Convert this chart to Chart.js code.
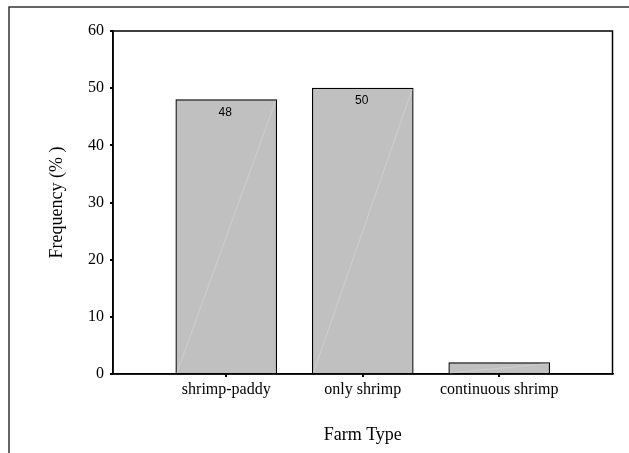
<!DOCTYPE html>
<html>
<head>
<meta charset="utf-8">
<script src="https://cdn.jsdelivr.net/npm/chart.js@4/dist/chart.umd.min.js"></script>
<style>
  html, body { margin: 0; padding: 0; background: #fff; }
  #wrap { width: 629px; height: 453px; }
</style>
</head>
<body>
<div id="wrap"><canvas id="farmChart" width="629" height="453"></canvas></div>
<script>
// farm types and their share (%)
const farmTypes = ['shrimp-paddy', 'only shrimp', 'continuous shrimp'];
const frequency = [48, 50, 2];
const yTicks = [0, 10, 20, 30, 40, 50, 60];

const serif = 'Liberation Serif, Times New Roman, serif';

// outer frame + plot frame
const framePlugin = {
    id: 'frames',
    beforeDraw(chart) {
        const ctx = chart.ctx;
        ctx.save();
        ctx.strokeStyle = '#333';
        ctx.lineWidth = 1.5;
        ctx.beginPath();
        ctx.moveTo(9, chart.height);
        ctx.lineTo(9, 7);
        ctx.lineTo(chart.width, 7);
        ctx.stroke();
        ctx.restore();
    },
    afterDatasetsDraw(chart) {
        const a = chart.chartArea;
        const ctx = chart.ctx;
        ctx.save();
        ctx.strokeStyle = '#000';
        ctx.lineWidth = 1.5;
        ctx.strokeRect(a.left, a.top, a.right - a.left, a.bottom - a.top);
        ctx.restore();
    }
};

// faint diagonal in each bar and the value labels
const barDecor = {
    id: 'barDecor',
    afterDatasetsDraw(chart) {
        const ctx = chart.ctx;
        const meta = chart.getDatasetMeta(0);
        ctx.save();
        meta.data.forEach((bar, i) => {
            const half = bar.width / 2;
            ctx.strokeStyle = 'rgba(225,225,225,0.6)';
            ctx.lineWidth = 0.7;
            ctx.beginPath();
            ctx.moveTo(bar.x - half + 1, bar.base);
            ctx.lineTo(bar.x + half - 1, bar.y + 1);
            ctx.stroke();

            if (bar.base - bar.y > 20) {
                ctx.fillStyle = '#000';
                ctx.font = '12px Liberation Sans, Arial, sans-serif';
                ctx.textAlign = 'center';
                ctx.textBaseline = 'middle';
                ctx.fillText(String(frequency[i]), bar.x - 1, bar.y + 13);
            }
        });
        ctx.restore();
    }
};

new Chart(document.getElementById('farmChart').getContext('2d'), {
    type: 'bar',
    data: {
        datasets: [{
            data: frequency.map((v, i) => ({ x: i, y: v })),
            backgroundColor: '#c0c0c0',
            borderColor: '#000',
            borderWidth: 1.2,
            barThickness: 101
        }]
    },
    options: {
        responsive: false,
        animation: false,
        layout: { padding: { left: 0, top: 31, right: 16.5, bottom: 0 } },
        plugins: {
            legend: { display: false },
            tooltip: { enabled: false }
        },
        scales: {
            x: {
                type: 'linear',
                min: -0.83,
                max: 2.83,
                offset: false,
                afterBuildTicks(scale) {
                    scale.ticks = farmTypes.map((t, i) => ({ value: i }));
                },
                afterFit(scale) { scale.height = 79; },
                ticks: {
                    color: '#000',
                    padding: 3,
                    maxRotation: 0,
                    autoSkip: false,
                    font: { family: serif, size: 16 },
                    callback: (v) => farmTypes[v]
                },
                grid: {
                    offset: false,
                    drawOnChartArea: false,
                    drawTicks: true,
                    tickLength: 3,
                    tickColor: '#000',
                    lineWidth: 2
                },
                border: { display: true, color: '#000', width: 1.5 },
                title: {
                    display: true,
                    text: 'Farm Type',
                    color: '#000',
                    font: { family: serif, size: 18 },
                    padding: { top: 0, bottom: 7 }
                }
            },
            y: {
                min: 0,
                max: 60,
                afterBuildTicks(scale) {
                    scale.ticks = yTicks.map(v => ({ value: v }));
                },
                afterFit(scale) { scale.width = 113; },
                ticks: {
                    color: '#000',
                    padding: 6,
                    font: { family: serif, size: 16 }
                },
                grid: {
                    drawOnChartArea: false,
                    drawTicks: true,
                    tickLength: 3,
                    tickColor: '#000',
                    lineWidth: 2
                },
                border: { display: true, color: '#000', width: 1.5 },
                title: {
                    display: true,
                    text: 'Frequency (% )',
                    color: '#000',
                    font: { family: serif, size: 18 },
                    padding: { top: 46, bottom: 0 }
                }
            }
        }
    },
    plugins: [framePlugin, barDecor]
});
</script>
</body>
</html>
